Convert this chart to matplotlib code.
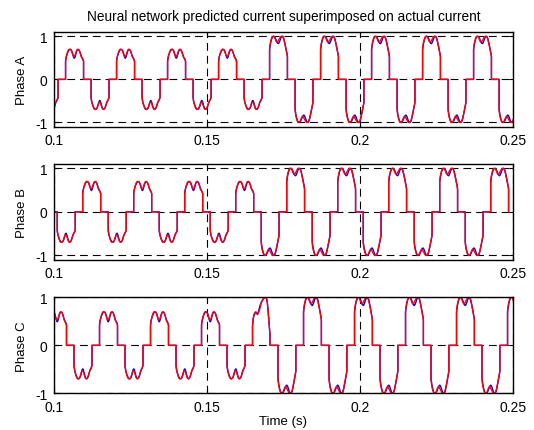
import numpy as np
import matplotlib.pyplot as plt

plt.rcParams['font.family'] = ['Liberation Sans', 'DejaVu Sans']

# Fundamental period (60 Hz)
T = 1 / 60.

# One positive half-cycle: angle (deg) from conduction start, value
# low level (~0.7) actual / predicted
ang_low = [0, 0, 3, 7, 12, 17, 22, 27, 32, 37, 42, 47, 52, 57, 62, 67, 72, 77, 82, 87, 92, 97, 102, 107, 112, 117, 122, 125, 127, 127]
val_low = [0, 0.44, 0.50, 0.55, 0.60, 0.64, 0.67, 0.69, 0.695, 0.69, 0.67, 0.63, 0.57, 0.51, 0.49, 0.52, 0.58, 0.64, 0.68, 0.695, 0.69, 0.67, 0.63, 0.58, 0.53, 0.50, 0.47, 0.44, 0.42, 0]
ang_low_p = [0, 0, 3, 7, 12, 17, 22, 27, 32, 37, 42, 47, 52, 57, 62, 67, 72, 77, 82, 87, 92, 97, 102, 107, 112, 117, 122, 125, 127, 127]
val_low_p = [0, 0.40, 0.48, 0.55, 0.61, 0.66, 0.69, 0.70, 0.70, 0.69, 0.66, 0.61, 0.56, 0.53, 0.53, 0.56, 0.61, 0.66, 0.69, 0.70, 0.695, 0.67, 0.63, 0.57, 0.52, 0.49, 0.46, 0.44, 0.42, 0]

# high level (~1.0)
ang_high = [0, 0, 3, 7, 12, 17, 22, 27, 32, 37, 42, 47, 52, 57, 62, 67, 72, 77, 82, 87, 92, 97, 102, 107, 112, 117, 122, 125, 126, 126]
val_high = [0, 0.68, 0.76, 0.84, 0.91, 0.96, 0.99, 1.0, 1.0, 0.98, 0.95, 0.91, 0.87, 0.84, 0.83, 0.85, 0.89, 0.94, 0.98, 1.0, 1.0, 0.98, 0.93, 0.86, 0.78, 0.70, 0.62, 0.56, 0.52, 0]
ang_high_p = [0, 0, 3, 7, 12, 17, 22, 27, 32, 37, 42, 47, 52, 57, 62, 67, 72, 77, 82, 87, 92, 97, 102, 107, 112, 117, 122, 125, 126, 126]
val_high_p = [0, 0.72, 0.80, 0.87, 0.93, 0.98, 1.0, 1.0, 0.99, 0.96, 0.92, 0.88, 0.86, 0.87, 0.90, 0.93, 0.96, 0.99, 1.0, 1.0, 0.99, 0.96, 0.91, 0.84, 0.76, 0.68, 0.60, 0.55, 0.51, 0]

# transition half-cycle (phase C, around t = 0.165)
ang_tr = [0, 0, 5, 10, 16, 22, 28, 35, 42, 50, 58, 66, 74, 82, 90, 98, 104, 110, 116, 121, 123, 123]
val_tr = [0, 0.40, 0.55, 0.62, 0.66, 0.68, 0.67, 0.64, 0.70, 0.80, 0.87, 0.92, 0.96, 0.99, 1.0, 0.99, 0.90, 0.72, 0.48, 0.30, 0.25, 0]
ang_tr_p = [0, 0, 5, 10, 16, 22, 28, 35, 42, 50, 58, 66, 74, 82, 90, 98, 104, 110, 116, 121, 123, 123]
val_tr_p = [0, 0.40, 0.57, 0.64, 0.68, 0.70, 0.69, 0.66, 0.68, 0.74, 0.84, 0.91, 0.96, 0.99, 1.0, 0.99, 0.90, 0.72, 0.48, 0.30, 0.25, 0]

# Half-cycle sequence of each phase: start time, sign of first half-cycle, level of each half-cycle
start_a, sign_a = 0.09547, -1
levels_a = ['L'] * 9 + ['H'] * 10
start_b, sign_b = 0.10107, -1
levels_b = ['L'] * 8 + ['H'] * 10
start_c, sign_c = 0.09823, 1
levels_c = ['L'] * 8 + ['T'] + ['H'] * 10

actual = {'L': (ang_low, val_low), 'H': (ang_high, val_high), 'T': (ang_tr, val_tr)}
predicted = {'L': (ang_low_p, val_low_p), 'H': (ang_high_p, val_high_p), 'T': (ang_tr_p, val_tr_p)}


def build(t0, s, levels, shapes):
    t, y = [0.09], [0.0]
    for k, lev in enumerate(levels):
        ang, val = shapes[lev]
        t += list(t0 + k * T / 2 + np.array(ang) / 360. * T)
        y += list(s * np.array(val))
        s = -s
    return np.array(t), np.array(y)


phases = [('Phase A', start_a, sign_a, levels_a, (-1.1, 1.1)),
          ('Phase B', start_b, sign_b, levels_b, (-1.1, 1.1)),
          ('Phase C', start_c, sign_c, levels_c, (-1, 1))]
positions = [[0.101, 0.7037, 0.8596, 0.2197],
             [0.101, 0.3951, 0.8596, 0.2220],
             [0.101, 0.0851, 0.8596, 0.2227]]

fig = plt.figure(figsize=(5.34, 4.31), dpi=100)

for i, (name, t0, s0, levels, ylim) in enumerate(phases):
    ax = fig.add_axes(positions[i])
    ta, ya = build(t0, s0, levels, actual)
    tp, yp = build(t0, s0, levels, predicted)
    ax.plot(ta, ya, color='#0000ff', lw=1.0)
    ax.plot(tp, yp, color='#ff0000', lw=1.0)
    ax.set_xlim(0.1, 0.25)
    ax.set_ylim(*ylim)
    ax.set_xticks([0.1, 0.15, 0.2, 0.25])
    ax.set_xticklabels(['0.1', '0.15', '0.2', '0.25'])
    ax.set_yticks([-1, 0, 1])
    ax.set_yticklabels(['-1', '0', '1'])
    ax.tick_params(direction='in', length=3, top=True, right=True, labelsize=10, width=0.8)
    ax.tick_params(axis='x', pad=4.5)
    ax.tick_params(axis='y', pad=4.5)
    ax.grid(True, color='k', linestyle=(0, (7, 4.5)), linewidth=0.8)
    for sp in ax.spines.values():
        sp.set_linewidth(1.0)
    ax.set_ylabel(name, fontsize=9.5, labelpad=5)
    if i == 0:
        ax.set_title('Neural network predicted current superimposed on actual current', fontsize=9.8, pad=9)
    if i == 2:
        ax.set_xlabel('Time (s)', fontsize=9.5, labelpad=1)

plt.savefig('out.png', dpi=100)
